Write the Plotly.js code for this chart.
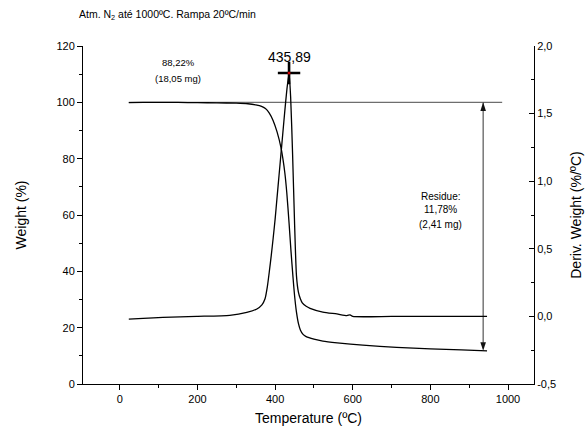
<!DOCTYPE html>
<html><head><meta charset="utf-8">
<script src="https://cdn.plot.ly/plotly-3.0.1.min.js"></script>
<style>html,body{margin:0;padding:0;background:#fff}#c{width:587px;height:442px}</style>
</head><body><div id="c"></div>
<script>
// TGA (weight %)
const tgaT = [23,60,100,150,200,250,300,330,350,365,375,385,395,405,415,420,425,430,436,441,446,450,455,460,465,472,480,500,523,560,626,713,800,880,946];
const tgaW = [99.9,100.0,100.0,99.95,99.9,99.8,99.7,99.5,99.1,98.6,97.8,96.2,93.5,89.5,84.0,80.0,75.0,68.0,57.0,47.0,38.0,31.5,25.5,21.5,19.2,17.6,16.8,15.9,15.2,14.6,13.8,13.0,12.5,12.1,11.78];
// DTG (deriv. weight %/ºC)
const dtgT = [23,60,111,198,283,327,353,366,374,380,385,390,395,400,405,410,415,420,425,430,435.89,440,445,450,455,460,465,470,480,490,523,559,585,593,600,700,800,946];
const dtgD = [-0.02,-0.015,-0.007,0.0,0.008,0.03,0.055,0.085,0.13,0.22,0.33,0.45,0.58,0.72,0.88,1.04,1.20,1.36,1.52,1.67,1.80,1.62,1.20,0.70,0.30,0.18,0.13,0.10,0.075,0.06,0.032,0.018,0.006,0.012,0.0,0.0,0.0,0.0];
const peakT = [435.89];
const peakD = [1.80];
const peakLabel = '435,89';
const xTicks = [0,200,400,600,800,1000];
const yTicks = [0,20,40,60,80,100,120];
const y2Ticks = [-0.5,0,0.5,1.0,1.5,2.0];
const y2Text = ['-0,5','0,0','0,5','1,0','1,5','2,0'];
const refLineT = [23,985];
const refLineW = [100,100];
const arrowT = [936,936];
const arrowW = [100,11.78];
const lossText = ['88,22%','(18,05 mg)'];
const residueText = ['Residue:','11,78%','(2,41 mg)'];

const F = 'Liberation Sans, Arial, sans-serif';
const traces = [
  {x: refLineT, y: refLineW, mode:'lines', line:{color:'#6e6e6e', width:1.2}, hoverinfo:'skip'},
  {x: arrowT, y: arrowW, mode:'lines+markers', line:{color:'#555', width:1.2},
   marker:{symbol:'arrow', angleref:'previous', size:9, color:'#111', standoff:0}},
  {x: arrowT.slice().reverse(), y: arrowW.slice().reverse(), mode:'markers', line:{color:'#555', width:1.2},
   marker:{symbol:'arrow', angleref:'previous', size:9, color:'#111'}},
  {x: tgaT, y: tgaW, mode:'lines', line:{color:'#000', width:1.3, shape:'spline', smoothing:0.6}},
  {x: dtgT, y: dtgD, yaxis:'y2', mode:'lines', line:{color:'#000', width:1.3, shape:'spline', smoothing:0.6}},
  {x: peakT, y: peakD, yaxis:'y2', mode:'markers', marker:{symbol:'cross-thin', size:16, line:{color:'#000', width:2.6}}},
  {x: peakT, y: peakD, yaxis:'y2', mode:'markers', marker:{symbol:'circle', size:3, color:'#d00000'}}
];
const pw = 587-83-53, ph = 442-46-58;
const annos = [
  {x: 438, y: 116.2, xref:'x', yref:'y', text: peakLabel, showarrow:false, font:{family:F, size:14, color:'#000'}},
  {x: 150, y: 114, xref:'x', yref:'y', text: lossText[0], showarrow:false, font:{family:F, size:9.5, color:'#000'}},
  {x: 150, y: 108.3, xref:'x', yref:'y', text: lossText[1], showarrow:false, font:{family:F, size:9.5, color:'#000'}},
  {x: 826, y: 66.7, xref:'x', yref:'y', text: residueText[0], showarrow:false, font:{family:F, size:10, color:'#000'}},
  {x: 826, y: 61.8, xref:'x', yref:'y', text: residueText[1], showarrow:false, font:{family:F, size:10, color:'#000'}},
  {x: 826, y: 56.8, xref:'x', yref:'y', text: residueText[2], showarrow:false, font:{family:F, size:10, color:'#000'}},
  {x: (77-83)/pw, y: 1 + (46-15)/ph, xref:'paper', yref:'paper', xanchor:'left', yanchor:'middle', showarrow:false,
   text:'Atm. N<sub>2</sub> até 1000ºC. Rampa 20ºC/min', font:{family:F, size:10.5, color:'#000'}}
];
const layout = {
  width:587, height:442,
  margin:{l:83, r:53, t:46, b:58, pad:0},
  paper_bgcolor:'#fff', plot_bgcolor:'#fff',
  showlegend:false,
  font:{family:F, size:11, color:'#000'},
  xaxis:{range:[-95,1067], tickvals:xTicks, ticktext:xTicks.map(String), showgrid:false, zeroline:false,
    showline:true, linecolor:'#000', linewidth:1, ticks:'outside', ticklen:5, tickcolor:'#000',
    minor:{dtick:100, tick0:0, ticks:'outside', ticklen:3, tickcolor:'#000'},
    title:{text:'Temperature (ºC)', font:{family:F, size:14}, standoff:8}, tickfont:{family:F, size:11}},
  yaxis:{range:[0,120], tickvals:yTicks, ticktext:yTicks.map(String), showgrid:false, zeroline:false,
    showline:true, linecolor:'#000', linewidth:1, ticks:'outside', ticklen:5, tickcolor:'#000',
    minor:{dtick:10, tick0:0, ticks:'outside', ticklen:3, tickcolor:'#000'},
    title:{text:'Weight (%)', font:{family:F, size:14}, standoff:26}, tickfont:{family:F, size:11}},
  yaxis2:{range:[-0.5,2.0], overlaying:'y', side:'right', tickvals:y2Ticks, ticktext:y2Text, showgrid:false, zeroline:false,
    showline:true, linecolor:'#000', linewidth:1, ticks:'inside', ticklen:5, tickcolor:'#000',
    minor:{dtick:0.25, tick0:0, ticks:'inside', ticklen:3, tickcolor:'#000'},
    title:{text:'Deriv. Weight (%/ºC)', font:{family:F, size:14}, standoff:16}, tickfont:{family:F, size:11}},
  annotations: annos
};
Plotly.newPlot('c', traces, layout, {displayModeBar:false, staticPlot:true});
</script></body></html>
